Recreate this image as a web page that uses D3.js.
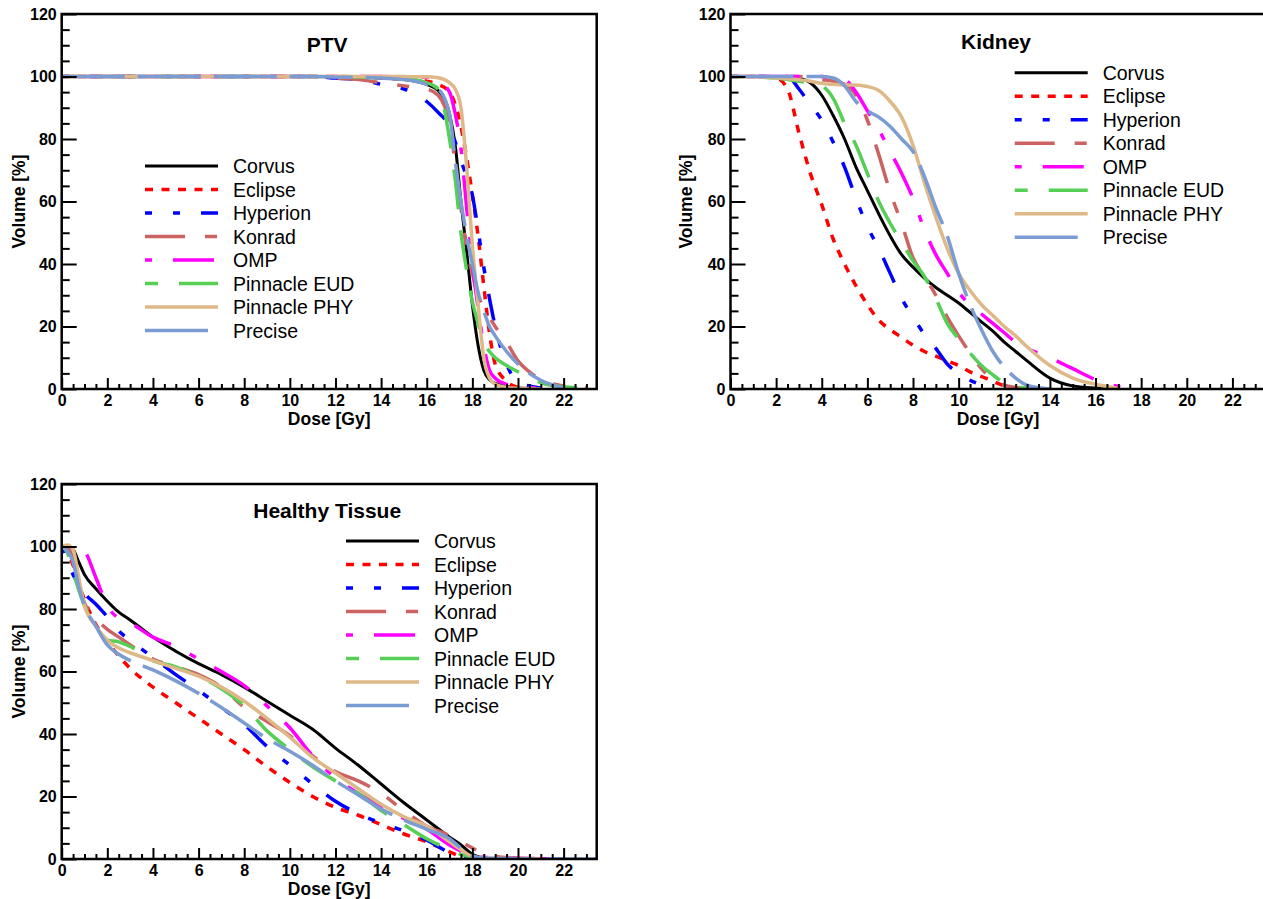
<!DOCTYPE html>
<html>
<head>
<meta charset="utf-8">
<script src="https://cdn.jsdelivr.net/npm/d3@7"></script>
<style>
  body { margin: 0; background: #fff; }
  svg { display: block; }
  text { font-family: "Liberation Sans", Arial, Helvetica, sans-serif; }
</style>
</head>
<body>
<svg id="chart" width="1263" height="899"></svg>
<script>
// planners (legend order)
let planners = ["Corvus", "Eclipse", "Hyperion", "Konrad", "OMP", "Pinnacle EUD", "Pinnacle PHY", "Precise"];
let xTicks = [0, 2, 4, 6, 8, 10, 12, 14, 16, 18, 20, 22];
let yTicks = [0, 20, 40, 60, 80, 100, 120];

// PTV
let ptvDose = [0, 4, 8, 11, 12, 13, 14, 15, 15.5, 16, 16.5, 17, 17.25, 17.5, 17.75, 18, 18.25, 18.5, 18.75, 19, 19.5, 20, 20.5, 21, 22, 23, 23.45];
let ptvCorvus = [100, 100, 100, 100, 100, 99.8, 99.5, 99, 98.5, 97.5, 95.5, 88, 78, 60, 44, 27, 14, 6, 3, 1.8, 0.8, 0.3, 0.1, 0, null, null, null];
let ptvEclipse = [100, 100, 100, 100, 100, 99.8, 99.5, 99.2, 99, 98.5, 97.5, 95, 91, 84, 74, 62, 49, 33, 18, 8, 2.5, 0.5, 0, null, null, null, null];
let ptvHyperion = [100, 100, 100, 100, 99.5, 99, 97.5, 96, 94.5, 92, 88.5, 84, 79, 73, 68, 62, 51, 39, 29, 20, 8, 2, 1, 0.3, null, null, null];
let ptvKonrad = [100, 100, 100, 100, 99.5, 99, 98, 97, 96.5, 96, 94, 85, 72, 58, 45, 37, 30, 26, 23, 20, 15, 9, 5.5, 3, 1, 0.3, null];
let ptvOMP = [100, 100, 100, 100, 100, 100, 100, 99.9, 99.9, 99.8, 98.5, 95, 88, 77, 58, 40, 26, 14, 6, 3.5, 1.5, 0.8, 0.5, 0.2, 0, null, null];
let ptvEUD = [100, 100, 100, 100, 100, 99.8, 99.5, 99.3, 99, 98, 96, 80, 67, 50, 38, 28, 21, 15, 12, 10, 7.5, 5.5, 3.5, 2, 0.7, 0.3, 0.2];
let ptvPHY = [100, 100, 100, 100, 100, 100, 100, 100, 99.9, 99.9, 99.6, 98, 96, 90, 71, 46, 27, 10, 3.5, 1.5, 0.5, 0.2, 0.1, 0, null, null, null];
let ptvPrecise = [100, 100, 100, 100, 99.8, 99.7, 99.5, 99, 98.5, 97.5, 96, 88, 73, 60, 49, 40, 31, 25, 20, 17, 12, 8, 5, 2.8, 0.3, null, null];

// Kidney
let kidDose = [0, 1, 2, 2.5, 3, 3.5, 4, 4.5, 5, 5.5, 6, 6.5, 7, 7.5, 8, 8.5, 9, 9.5, 10, 10.5, 11, 11.5, 12, 12.5, 13, 14, 15, 16, 17, 18];
let kidCorvus = [100, 100, 100, 100, 99.5, 98, 94, 87.5, 80, 71, 63.5, 56, 49, 43, 39, 35.5, 32.5, 30, 27.5, 24.5, 21.5, 18.5, 15, 12, 9, 3.5, 1, 0.3, 0, null];
let kidEclipse = [100, 100, 99.5, 96, 82, 69, 59, 48, 40, 33, 27, 22, 19, 16.5, 14, 12, 10.5, 9, 7.5, 5.5, 4, 2.5, 1, 0.3, 0, null, null, null, null, null];
let kidHyperion = [100, 100, 100, 100, 96, 91, 86, 79, 71, 61, 52, 45, 37, 29, 23, 17.5, 13, 8, 5, 2.8, 1.3, 0.3, null, null, null, null, null, null, null, null];
let kidKonrad = [100, 100, 100, 100, 100, 99.5, 99, 98.5, 97.5, 94, 86, 75, 63, 53, 42, 36, 30, 23, 17, 11.5, 6.5, 3, 1.2, 0.5, 0.2, null, null, null, null, null];
let kidOMP = [100, 100, 100, 100, 100, 100, 100, 99.5, 99, 95, 89, 83, 76, 69, 61, 51, 43, 37, 31, 27, 24, 21, 18, 15, 13, 10, 6.5, 3, 0.8, 0];
let kidEUD = [100, 99.8, 99.5, 99, 98.5, 98, 97, 93, 85, 78, 69, 60, 53, 47, 41, 36, 29, 21, 16, 11.5, 7.5, 4.5, 2, 0.8, 0.3, null, null, null, null, null];
let kidPHY = [100, 100, 99.5, 99.3, 99, 98.5, 97.8, 97.5, 97.3, 97.3, 96.8, 95.5, 92, 87, 78, 66, 55, 45, 37, 31.5, 27, 23.5, 20, 17, 13.5, 7.5, 3.5, 1.5, 0.2, null];
let kidPrecise = [100, 100, 100, 100, 100, 100, 100, 99.5, 97, 92, 89, 87, 84, 80, 76, 68, 58, 49, 37, 27, 19, 12, 7, 3.5, 1.2, 0, null, null, null, null];

// Healthy Tissue
let htDose = [0, 0.25, 0.5, 0.75, 1, 1.5, 2, 2.5, 3, 4, 5, 6, 7, 8, 9, 10, 11, 12, 13, 14, 15, 16, 17, 17.5, 18, 18.5, 19, 20, 21, 22, 23.45];
let htCorvus = [100, 100, 99, 95, 91, 86.5, 82.5, 79, 76.5, 71, 66.5, 62.5, 59, 55, 50.5, 46, 41.5, 35.5, 30, 24, 18, 12.5, 7, 4.5, 1.5, 0.3, null, null, null, null, null];
let htEclipse = [100, 98, 94, 88, 83, 75, 69.5, 65, 61, 55, 50, 45, 40, 35, 29.5, 24.5, 20, 16.5, 14, 11, 8, 5.5, 2.3, 0.8, 0.2, 0, null, null, null, null, null];
let htHyperion = [100, 95, 91, 87.5, 85, 81.5, 77.5, 73, 70, 64.5, 59, 54, 48.5, 43, 36, 30, 24, 18.5, 14.5, 11.5, 9, 6, 2, 0.5, 0.1, null, null, null, null, null, null];
let htKonrad = [100, 99.5, 96, 88, 82, 77, 73.5, 71, 68.5, 64, 61.5, 59, 55, 48.5, 44, 39.5, 33, 28, 25, 21, 15.5, 10.5, 7.5, 5.5, 3.5, 1.8, 0.8, 0.3, 0.1, 0, null];
let htOMP = [100, 100, 100, 99.5, 98.5, 90, 81, 77, 75.5, 71, 68, 64, 60, 55.5, 49, 42, 33, 26, 21, 17, 13, 9.5, 4.5, 2.5, 1, 0.6, 0.4, 0.2, 0.1, 0, null];
let htEUD = [100, 98, 92, 86, 81, 74.5, 70, 69.5, 68, 63.5, 61.5, 58.5, 54.5, 49, 41, 35, 29.5, 25, 21, 15.5, 11, 6.5, 3, 1.5, 0.5, 0.1, 0, null, null, null, null];
let htPHY = [100, 100.5, 99, 90, 81, 74.5, 70, 67.5, 66, 63.5, 61, 58.5, 55, 50.5, 45, 39, 32.5, 27.5, 22.5, 17.5, 13.5, 10.5, 5.5, 3, 0.8, 0.3, 0.2, 0.1, 0, null, null];
let htPrecise = [100, 98.5, 95, 87, 81, 74.5, 68.5, 65.5, 63.5, 60.5, 57, 53, 48.5, 43.5, 38.5, 34.5, 30, 25, 20.5, 16, 12.5, 9.5, 6.5, 3.5, 1, 0.3, 0.2, 0.1, 0, 0, 0];

// line styles per planner
let colors = ["#000000", "#ff0000", "#0000ff", "#cd6262", "#ff00ff", "#55cf55", "#deb887", "#7b9bd3"];
let dashes = [null, "8,8.5", "7,21,7,21,27,21", "40,20,12,20", "7,21,41,21", "40,21", null, "63,13"];
let dashOffsets = [0, 0, 0, 0, 0, 27, 0, 0];
let widths = [3, 3.5, 3.5, 3.5, 3.5, 3.5, 3.5, 3.5];

let plotW = 535;
let plotH = 375;
let xMax = 23.45;

let panels = [
  { id: "ptv", title: "PTV", left: 61.7, top: 14, titleDy: 38, yTitleX: 25, legX: 145, legY: 166,
    dose: ptvDose, series: [ptvCorvus, ptvEclipse, ptvHyperion, ptvKonrad, ptvOMP, ptvEUD, ptvPHY, ptvPrecise] },
  { id: "kid", title: "Kidney", left: 730.5, top: 14, titleDy: 35, yTitleX: 692, legX: 1014.7, legY: 72.7,
    dose: kidDose, series: [kidCorvus, kidEclipse, kidHyperion, kidKonrad, kidOMP, kidEUD, kidPHY, kidPrecise] },
  { id: "ht", title: "Healthy Tissue", left: 61.7, top: 484, titleDy: 34, yTitleX: 25, legX: 346, legY: 541,
    dose: htDose, series: [htCorvus, htEclipse, htHyperion, htKonrad, htOMP, htEUD, htPHY, htPrecise] },
];

let svg = d3.select("#chart");
let defs = svg.append("defs");

let styleLine = (sel, i) => {
  sel
    .attr("fill", "none")
    .attr("stroke", colors[i])
    .attr("stroke-width", widths[i])
    .attr("stroke-linejoin", "round")
    .attr("stroke-dasharray", dashes[i])
    .attr("stroke-dashoffset", dashOffsets[i]);
};

panels.forEach((p) => {
  let bottom = p.top + plotH;
  let x = d3.scaleLinear().domain([0, xMax]).range([p.left, p.left + plotW]);
  let y = d3.scaleLinear().domain([0, 120]).range([bottom, p.top]);
  let g = svg.append("g");

  defs.append("clipPath").attr("id", "clip-" + p.id)
    .append("rect")
    .attr("x", p.left).attr("y", p.top)
    .attr("width", plotW).attr("height", plotH);

  // curves
  let line = d3.line()
    .defined((d) => d[1] !== null)
    .x((d) => x(d[0]))
    .y((d) => y(d[1]))
    .curve(d3.curveMonotoneX);

  let curves = g.append("g").attr("clip-path", "url(#clip-" + p.id + ")");
  p.series.forEach((vals, i) => {
    let pts = p.dose.map((d, k) => [d, vals[k]]);
    curves.append("path").attr("d", line(pts)).call(styleLine, i);
  });

  // minor ticks
  let yMinor = d3.range(0, 121, 5).filter((v) => v % 20 !== 0);
  let xMinor = d3.range(0, xMax, 0.5).filter((v) => v % 2 !== 0);

  g.append("g")
    .attr("transform", `translate(${p.left},0)`)
    .call(d3.axisLeft(y).tickValues(yMinor).tickSize(-8).tickSizeOuter(0).tickFormat(""))
    .call((a) => a.select(".domain").remove());
  g.append("g")
    .attr("transform", `translate(0,${bottom})`)
    .call(d3.axisBottom(x).tickValues(xMinor).tickSize(-5).tickSizeOuter(0).tickFormat(""))
    .call((a) => a.select(".domain").remove());

  // major ticks with labels
  let yAxis = g.append("g")
    .attr("transform", `translate(${p.left},0)`)
    .call(d3.axisLeft(y).tickValues(yTicks).tickSize(-15).tickSizeOuter(0).tickPadding(5))
    .call((a) => a.select(".domain").remove());
  let xAxis = g.append("g")
    .attr("transform", `translate(0,${bottom})`)
    .call(d3.axisBottom(x).tickValues(xTicks).tickSize(-11).tickSizeOuter(0).tickPadding(6))
    .call((a) => a.select(".domain").remove());

  g.selectAll(".tick line").attr("stroke", "#000").attr("stroke-width", 2);
  [yAxis, xAxis].forEach((a) => {
    a.attr("font-family", null).attr("font-size", null);
    a.selectAll("text")
      .attr("fill", "#000")
      .style("font-size", "16px")
      .style("font-weight", "bold");
  });

  // frame
  g.append("rect")
    .attr("x", p.left).attr("y", p.top)
    .attr("width", plotW).attr("height", plotH)
    .attr("fill", "none")
    .attr("stroke", "#000")
    .attr("stroke-width", 2.5);

  // titles
  g.append("text")
    .attr("x", p.left + plotW / 2 - 2)
    .attr("y", p.top + p.titleDy)
    .attr("text-anchor", "middle")
    .style("font-size", "21px")
    .style("font-weight", "bold")
    .text(p.title);

  g.append("text")
    .attr("x", p.left + plotW / 2)
    .attr("y", bottom + 35.5)
    .attr("text-anchor", "middle")
    .style("font-size", "17.5px")
    .style("font-weight", "bold")
    .text("Dose [Gy]");

  g.append("text")
    .attr("transform", `translate(${p.yTitleX},${p.top + plotH / 2}) rotate(-90)`)
    .attr("text-anchor", "middle")
    .style("font-size", "17.5px")
    .style("font-weight", "bold")
    .text("Volume [%]");

  // legend
  let leg = g.append("g");
  planners.forEach((name, i) => {
    let ly = p.legY + i * 23.5;
    leg.append("line")
      .attr("x1", p.legX).attr("x2", p.legX + 73)
      .attr("y1", ly).attr("y2", ly)
      .call(styleLine, i);
    leg.append("text")
      .attr("x", p.legX + 88)
      .attr("y", ly + 7)
      .style("font-size", "19.5px")
      .text(name);
  });
});
</script>
</body>
</html>
